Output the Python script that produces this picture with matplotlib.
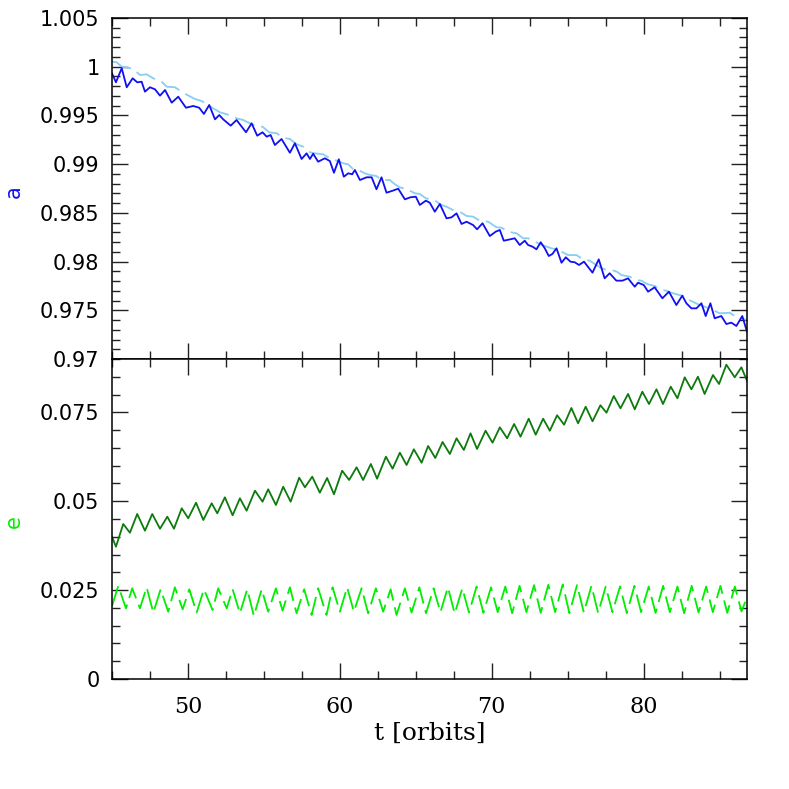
import matplotlib
matplotlib.use("Agg")
import matplotlib.pyplot as plt
from matplotlib.ticker import MultipleLocator, FuncFormatter

plt.rcParams['lines.scale_dashes'] = False

# ---------------- data ----------------
# top panel: semi-major axis a
t_a1 = [45.00, 45.26, 45.64, 45.97, 46.36, 46.66, 46.95, 47.17, 47.50, 47.83, 48.16, 48.49, 48.93, 49.36, 49.87,
        50.35, 50.74, 51.05, 51.40, 51.78, 52.06, 52.32, 52.81, 53.20, 53.82, 54.19, 54.56, 54.91, 55.18, 55.44,
        55.72, 56.16, 56.71, 57.04, 57.48, 57.81, 58.03, 58.24, 58.57, 59.01, 59.34, 59.61, 59.93, 60.26, 60.55,
        60.81, 60.99, 61.32, 61.76, 62.09, 62.41, 62.74, 63.07, 63.47, 63.84, 64.28, 64.65, 65.00, 65.26, 65.66,
        65.92, 66.25, 66.58, 67.02, 67.35, 67.68, 68.01, 68.34, 68.77, 69.03, 69.39, 69.87, 70.26, 70.53, 70.79,
        71.23, 71.51, 71.84, 72.17, 72.39, 72.68, 72.94, 73.22, 73.49, 73.75, 73.99, 74.26, 74.59, 74.87, 75.18,
        75.46, 75.74, 76.07, 76.63, 77.04, 77.43, 77.76, 78.20, 78.60, 78.97, 79.41, 79.63, 80.00, 80.29, 80.72,
        81.23, 81.66, 82.15, 82.54, 82.81, 83.14, 83.47, 83.80, 84.08, 84.39, 84.67, 85.11, 85.44, 85.77, 86.10,
        86.49, 86.80]
a1 = [0.99932, 0.99840, 0.99984, 0.99789, 0.99881, 0.99840, 0.99846, 0.99744, 0.99789, 0.99768, 0.99703, 0.99761,
      0.99631, 0.99692, 0.99579, 0.99597, 0.99579, 0.99515, 0.99607, 0.99460, 0.99504, 0.99460, 0.99395, 0.99453,
      0.99327, 0.99419, 0.99292, 0.99327, 0.99282, 0.99299, 0.99196, 0.99258, 0.99117, 0.99214, 0.99053, 0.99111,
      0.99053, 0.99107, 0.99025, 0.99060, 0.99032, 0.98912, 0.99050, 0.98871, 0.98906, 0.98896, 0.98940, 0.98837,
      0.98865, 0.98865, 0.98742, 0.98865, 0.98707, 0.98727, 0.98748, 0.98639, 0.98660, 0.98666, 0.98581, 0.98625,
      0.98604, 0.98512, 0.98591, 0.98444, 0.98454, 0.98495, 0.98386, 0.98409, 0.98375, 0.98331, 0.98393, 0.98262,
      0.98307, 0.98324, 0.98214, 0.98229, 0.98239, 0.98170, 0.98214, 0.98170, 0.98153, 0.98126, 0.98198, 0.98136,
      0.98057, 0.98078, 0.98136, 0.97988, 0.98044, 0.97999, 0.97993, 0.97965, 0.97999, 0.97886, 0.98023, 0.97828,
      0.97880, 0.97804, 0.97804, 0.97828, 0.97742, 0.97783, 0.97760, 0.97691, 0.97736, 0.97623, 0.97691, 0.97554,
      0.97650, 0.97572, 0.97520, 0.97520, 0.97572, 0.97441, 0.97572, 0.97418, 0.97441, 0.97359, 0.97373, 0.97339,
      0.97441, 0.97280]

t_a2 = [45.00, 45.31, 45.64, 46.07, 46.40, 46.84, 47.28, 47.72, 48.27, 48.60, 49.14, 49.59, 49.95, 50.46, 50.90,
        51.34, 51.66, 52.11, 52.55, 52.88, 53.22, 53.64, 54.08, 54.52, 54.91, 55.35, 55.84, 56.27, 56.71, 57.15,
        57.59, 58.03, 58.36, 58.90, 59.34, 59.67, 60.22, 60.55, 60.88, 61.20, 61.64, 61.97, 62.41, 62.74, 63.29,
        63.62, 63.95, 64.43, 64.93, 65.26, 65.66, 66.14, 66.69, 67.02, 67.45, 67.89, 68.34, 68.77, 69.21, 69.76,
        70.31, 70.64, 71.07, 71.63, 72.06, 72.39, 72.72, 73.05, 73.49, 73.93, 74.26, 74.59, 75.02, 75.57, 76.01,
        76.45, 76.78, 77.11, 77.43, 77.88, 78.24, 78.53, 79.08, 79.47, 79.85, 80.22, 80.72, 81.16, 81.49, 81.93,
        82.59, 82.98, 83.36, 83.68, 84.01, 84.56, 85.00, 85.66, 85.99, 86.32, 86.76]
a2 = [1.00051, 1.00045, 1.00000, 0.99990, 0.99977, 0.99915, 0.99922, 0.99881, 0.99846, 0.99795, 0.99789, 0.99744,
      0.99710, 0.99669, 0.99648, 0.99607, 0.99573, 0.99532, 0.99512, 0.99497, 0.99469, 0.99453, 0.99419, 0.99391,
      0.99384, 0.99327, 0.99317, 0.99271, 0.99258, 0.99204, 0.99179, 0.99122, 0.99111, 0.99101, 0.99060, 0.99043,
      0.99009, 0.98998, 0.98947, 0.98940, 0.98906, 0.98889, 0.98878, 0.98837, 0.98837, 0.98793, 0.98762, 0.98742,
      0.98701, 0.98694, 0.98649, 0.98639, 0.98581, 0.98563, 0.98529, 0.98512, 0.98468, 0.98461, 0.98420, 0.98409,
      0.98352, 0.98348, 0.98307, 0.98290, 0.98239, 0.98239, 0.98214, 0.98188, 0.98160, 0.98136, 0.98126, 0.98101,
      0.98067, 0.98067, 0.98023, 0.98009, 0.97975, 0.97941, 0.97921, 0.97914, 0.97896, 0.97862, 0.97845, 0.97811,
      0.97804, 0.97770, 0.97749, 0.97708, 0.97701, 0.97674, 0.97647, 0.97606, 0.97578, 0.97554, 0.97537, 0.97503,
      0.97469, 0.97475, 0.97441, 0.97428, 0.97400]

# bottom panel: eccentricity e
t_e1 = [45.00, 45.26, 45.74, 46.18, 46.66, 47.17, 47.65, 48.16, 48.64, 49.08, 49.59, 50.02, 50.53, 51.01, 51.56,
        51.93, 52.43, 52.94, 53.42, 53.86, 54.41, 54.91, 55.28, 55.79, 56.27, 56.76, 57.32, 57.70, 58.18, 58.68,
        59.16, 59.61, 60.15, 60.61, 61.10, 61.53, 62.04, 62.45, 63.03, 63.47, 63.95, 64.39, 64.87, 65.38, 65.81,
        66.28, 66.76, 67.24, 67.68, 68.16, 68.60, 69.03, 69.59, 70.05, 70.53, 71.01, 71.47, 71.89, 72.43, 72.89,
        73.38, 73.82, 74.30, 74.76, 75.24, 75.68, 76.18, 76.63, 77.15, 77.55, 78.03, 78.47, 78.97, 79.41, 79.91,
        80.35, 80.84, 81.27, 81.78, 82.22, 82.70, 83.14, 83.57, 84.01, 84.56, 84.96, 85.44, 85.99, 86.43, 86.80]
e1 = [0.04002, 0.03721, 0.04359, 0.04115, 0.04641, 0.04171, 0.04641, 0.04227, 0.04565, 0.04227, 0.04801, 0.04520,
      0.04958, 0.04472, 0.04942, 0.04660, 0.05110, 0.04604, 0.05082, 0.04733, 0.05296, 0.04987, 0.05335, 0.04894,
      0.05408, 0.04987, 0.05662, 0.05392, 0.05690, 0.05240, 0.05653, 0.05195, 0.05858, 0.05597, 0.05954, 0.05597,
      0.06047, 0.05633, 0.06252, 0.05915, 0.06365, 0.06019, 0.06460, 0.06083, 0.06553, 0.06216, 0.06666, 0.06328,
      0.06770, 0.06441, 0.06910, 0.06469, 0.06983, 0.06646, 0.07079, 0.06770, 0.07172, 0.06815, 0.07321, 0.06871,
      0.07321, 0.06983, 0.07417, 0.07152, 0.07622, 0.07192, 0.07658, 0.07248, 0.07698, 0.07490, 0.07959, 0.07613,
      0.08016, 0.07585, 0.08080, 0.07734, 0.08148, 0.07734, 0.08221, 0.07895, 0.08485, 0.08148, 0.08502, 0.08016,
      0.08550, 0.08297, 0.08840, 0.08485, 0.08766, 0.08390]

t_e2 = [45.00, 45.41, 45.92, 46.33, 46.84, 47.28, 47.72, 48.20, 48.70, 49.14, 49.65, 50.09, 50.57, 51.05, 51.62,
        51.99, 52.55, 52.94, 53.42, 53.90, 54.34, 54.85, 55.28, 55.79, 56.23, 56.71, 57.15, 57.65, 58.14, 58.57,
        59.12, 59.52, 60.00, 60.48, 60.92, 61.43, 61.86, 62.37, 62.85, 63.34, 63.73, 64.28, 64.72, 65.23, 65.67,
        66.17, 66.62, 67.11, 67.56, 68.06, 68.50, 69.00, 69.45, 69.95, 70.39, 70.89, 71.34, 71.83, 72.28, 72.78,
        73.22, 73.72, 74.17, 74.67, 75.11, 75.61, 76.06, 76.56, 77.00, 77.50, 77.94, 78.44, 78.89, 79.39, 79.83,
        80.33, 80.78, 81.28, 81.72, 82.22, 82.66, 83.16, 83.61, 84.11, 84.55, 85.05, 85.50, 86.00, 86.44, 86.80]
e2 = [0.0205, 0.02616, 0.01988, 0.02551, 0.01988, 0.02579, 0.01865, 0.02523, 0.01893, 0.02579, 0.01960, 0.02523,
      0.01865, 0.02523, 0.01941, 0.02551, 0.01988, 0.02523, 0.01848, 0.02523, 0.01772, 0.02523, 0.01893, 0.02551,
      0.01921, 0.02579, 0.01848, 0.02523, 0.01800, 0.02551, 0.01800, 0.02579, 0.01893, 0.02579, 0.01893, 0.02551,
      0.01848, 0.02551, 0.01893, 0.02523, 0.01800, 0.02551, 0.01870, 0.02579, 0.01850, 0.02551, 0.01880, 0.02579,
      0.01840, 0.02551, 0.01870, 0.02600, 0.01860, 0.02579, 0.01880, 0.02600, 0.01850, 0.02620, 0.01880, 0.02640,
      0.01860, 0.02650, 0.01880, 0.02660, 0.01850, 0.02640, 0.01870, 0.02620, 0.01860, 0.02600, 0.01880, 0.02600,
      0.01850, 0.02620, 0.01880, 0.02600, 0.01860, 0.02620, 0.01880, 0.02600, 0.01850, 0.02620, 0.01870, 0.02600,
      0.01880, 0.02620, 0.01860, 0.02600, 0.01900, 0.02300]

x_ticks = [50, 60, 70, 80]

# ---------------- figure ----------------
fig = plt.figure(figsize=(7.89, 7.89), dpi=100)
L, R = 112 / 789, 747 / 789
y_top, y_mid, y_bot = 1 - 18 / 789, 1 - 359 / 789, 1 - 679 / 789
ax1 = fig.add_axes([L, y_mid, R - L, y_top - y_mid])
ax2 = fig.add_axes([L, y_bot, R - L, y_mid - y_bot], sharex=ax1)

lw = 1.3
ax1.plot(t_a2, a2, color='#87cef0', lw=lw, dashes=(15, 5))
ax1.plot(t_a1, a1, color='#1010f0', lw=lw)
ax2.plot(t_e1, e1, color='#0c7a0c', lw=lw)
ax2.plot(t_e2, e2, color='#00ee00', lw=lw, dashes=(15, 5))

ax1.set_xlim(45, 86.8)
ax1.set_ylim(0.97, 1.005)
ax2.set_ylim(0, 0.09)

sans = ['DejaVu Sans']
serif = ['DejaVu Serif']

for ax in (ax1, ax2):
    for s in ax.spines.values():
        s.set_linewidth(1.1)
    ax.tick_params(which='both', direction='in', top=True, right=True, width=1.0, color='#222222')
    ax.tick_params(which='major', length=11.5)
    ax.tick_params(which='minor', length=5.5)
    ax.tick_params(axis='y', labelsize=15, pad=9)
    ax.xaxis.set_major_locator(MultipleLocator(10))
    ax.xaxis.set_minor_locator(MultipleLocator(2.5))

ax1.yaxis.set_major_locator(MultipleLocator(0.005))
ax1.yaxis.set_minor_locator(MultipleLocator(0.001))
ax2.yaxis.set_major_locator(MultipleLocator(0.025))
ax2.yaxis.set_minor_locator(MultipleLocator(0.005))
fmt = FuncFormatter(lambda v, p: ('%.3f' % v).rstrip('0').rstrip('.') if abs(v) > 1e-12 else '0')
ax1.yaxis.set_major_formatter(fmt)
ax2.yaxis.set_major_formatter(fmt)

ax1.tick_params(axis='x', labelbottom=False)
ax2.tick_params(axis='x', labelsize=16, pad=12)
ax2.set_xticks(x_ticks)
ax2.set_xticklabels([str(v) for v in x_ticks], family=serif, fontsize=16)
for ax in (ax1, ax2):
    for lab in ax.get_yticklabels():
        lab.set_family(sans)

fig.text(14 / 789, 1 - 192 / 789, 'a', color='#1010f0', rotation=90, fontsize=15,
         family=sans, ha='center', va='center')
fig.text(14 / 789, 1 - 522 / 789, 'e', color='#00ee00', rotation=90, fontsize=15,
         family=sans, ha='center', va='center')
fig.text(430 / 789, 1 - 733 / 789, 't [orbits]', fontsize=18, family=serif,
         ha='center', va='center')

fig.savefig('out.png', dpi=100)
